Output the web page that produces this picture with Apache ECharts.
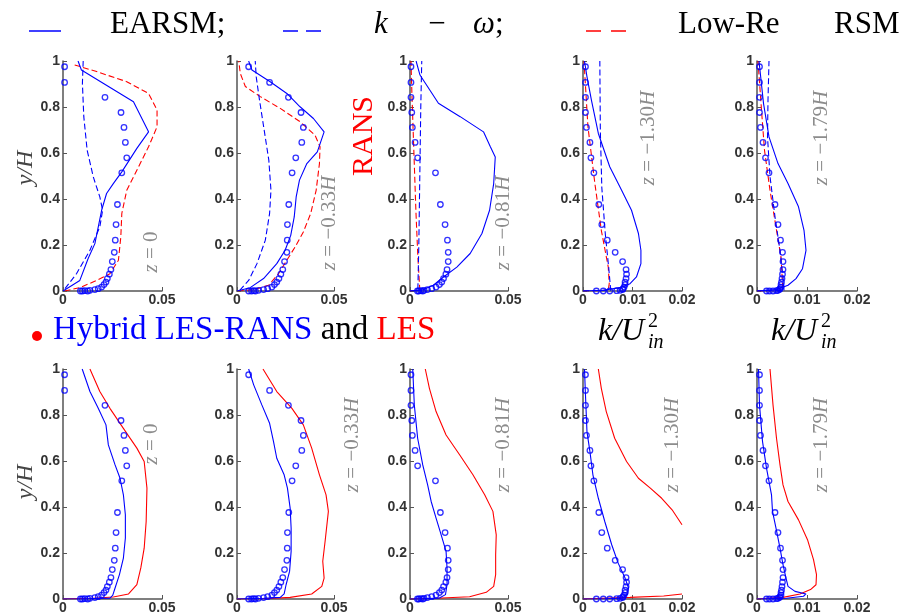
<!DOCTYPE html>
<html><head><meta charset="utf-8">
<script src="https://cdn.jsdelivr.net/npm/echarts@6/dist/echarts.min.js"></script>
<style>html,body{margin:0;padding:0;background:#fff}#c{width:905px;height:615px}</style>
</head><body><div id="c"></div>
<script>
// ---------- Data ----------
const yTickLabels = ['0','0.2','0.4','0.6','0.8','1'];
const zLabels = ['0','\u22120.33','\u22120.81','\u22121.30','\u22121.79'];
const xMaxs = [0.05, 0.05, 0.05, 0.02, 0.02];
const xIntervals = [0.05, 0.05, 0.05, 0.01, 0.01];

// experimental (circles), shared y positions
const yExp = [0.975,0.907,0.842,0.776,0.711,0.646,0.579,0.514,0.376,0.289,0.221,0.168,0.128,0.093,0.073,0.054,0.039,0.028,0.017,0.010,0.006,0.003,0.0015,0,0,0];
const expZ000 = [0.0008,0.0008,0.0212,0.0293,0.0308,0.0315,0.0322,0.0297,0.0275,0.0268,0.0264,0.0259,0.0249,0.0242,0.0234,0.0224,0.0217,0.0207,0.0195,0.0178,0.0161,0.0136,0.011,0.0088,0.0098,0.0125];
const expZ033 = [0.006,0.0168,0.0265,0.033,0.0342,0.0334,0.0303,0.0284,0.0267,0.026,0.0259,0.0257,0.0245,0.0236,0.0226,0.0216,0.0205,0.0193,0.018,0.0158,0.0137,0.0111,0.0086,0.006,0.0075,0.0095];
const expZ081 = [0.0005,0.0005,0.0005,0.0009,0.0012,0.0026,0.0039,0.013,0.0155,0.0179,0.0191,0.0195,0.0195,0.0189,0.0183,0.0171,0.0162,0.015,0.0133,0.0111,0.0089,0.0072,0.0055,0.0038,0.0045,0.0065];
const expZ130 = [0.0005,0.0005,0.0005,0.0005,0.0007,0.0014,0.0016,0.0022,0.0032,0.0038,0.0049,0.0065,0.008,0.0087,0.0088,0.0087,0.0085,0.0085,0.0083,0.0081,0.008,0.0075,0.0068,0.0054,0.0041,0.0027];
const expZ179 = [0.0005,0.0005,0.0005,0.0005,0.0007,0.0012,0.0017,0.0024,0.0036,0.0042,0.0047,0.0051,0.0052,0.0052,0.0051,0.005,0.0049,0.0048,0.0048,0.0046,0.0045,0.0042,0.0039,0.0032,0.0025,0.0019];

// RANS: EARSM (solid blue)
const earsmZ000 = [[0,0],[0.0085,0.046],[0.0127,0.141],[0.0161,0.206],[0.0195,0.351],[0.022,0.424],[0.0254,0.467],[0.0297,0.518],[0.0373,0.62],[0.0432,0.692],[0.0356,0.823],[0.0093,0.961],[0.0076,1.0]];
const earsmZ033 = [[0,0],[0.0068,0.0145],[0.0137,0.054],[0.0205,0.119],[0.0248,0.177],[0.0277,0.242],[0.0295,0.322],[0.0305,0.409],[0.0322,0.482],[0.036,0.554],[0.0414,0.605],[0.0449,0.692],[0.0394,0.75],[0.0325,0.801],[0.0257,0.859],[0.0171,0.91],[0.0077,0.961],[0.006,1.0]];
const earsmZ081 = [[0,0],[0.006,0.003],[0.0119,0.025],[0.0171,0.061],[0.0239,0.104],[0.0307,0.163],[0.0367,0.25],[0.0406,0.351],[0.0427,0.467],[0.0435,0.583],[0.041,0.627],[0.0375,0.692],[0.0256,0.758],[0.0145,0.816],[0.0051,0.939],[0.0031,1.0]];
const earsmZ130 = [[0,0],[0.0041,0.003],[0.0075,0.0145],[0.0095,0.032],[0.0108,0.061],[0.0117,0.119],[0.0117,0.177],[0.0112,0.25],[0.0098,0.351],[0.0078,0.438],[0.0054,0.54],[0.0031,0.685],[0.0017,0.83],[0.0008,0.932],[0.0003,1.0]];
const earsmZ179 = [[0,0],[0.0039,0.006],[0.0062,0.025],[0.0078,0.054],[0.0091,0.097],[0.0098,0.177],[0.0094,0.264],[0.0083,0.366],[0.0062,0.467],[0.0042,0.554],[0.0024,0.67],[0.0013,0.816],[0.0004,1.0]];

// RANS: k-omega (dashed blue)
const kwZ000 = [[0.001,0.01],[0.0068,0.075],[0.0136,0.177],[0.0186,0.279],[0.02,0.351],[0.0186,0.409],[0.0153,0.496],[0.0122,0.612],[0.0105,0.758],[0.0098,0.903],[0.0102,1.0]];
const kwZ033 = [[0.0014,0.003],[0.006,0.046],[0.0103,0.119],[0.0146,0.221],[0.0168,0.337],[0.0175,0.438],[0.0164,0.569],[0.014,0.7],[0.0116,0.83],[0.0099,0.932],[0.0094,1.0]];
const kwZ081 = [[0,0],[0.004,0.003],[0.0045,0.2],[0.005,0.5],[0.0055,0.8],[0.006,1.0]];
const kwZ130 = [[0,0],[0.0056,0.003],[0.0052,0.1],[0.0045,0.25],[0.0038,0.45],[0.0035,0.7],[0.0034,1.0]];
const kwZ179 = [[0,0],[0.0054,0.003],[0.0052,0.061],[0.0046,0.177],[0.0036,0.322],[0.0026,0.498],[0.0021,0.67],[0.0022,0.83],[0.0024,1.0]];

// RANS: Low-Re RSM (dashed red)
const rsmZ000 = [[0.0008,0],[0.0085,0.0145],[0.017,0.046],[0.0237,0.075],[0.028,0.134],[0.0292,0.235],[0.0297,0.337],[0.0322,0.438],[0.0373,0.525],[0.0432,0.627],[0.0475,0.714],[0.0475,0.787],[0.0432,0.859],[0.0322,0.91],[0.017,0.954],[0.0059,0.983]];
const rsmZ033 = [[0.0003,0],[0.0086,0.006],[0.0163,0.025],[0.0214,0.075],[0.0257,0.134],[0.03,0.192],[0.0342,0.257],[0.038,0.337],[0.0408,0.438],[0.0425,0.554],[0.0428,0.627],[0.0402,0.678],[0.0325,0.736],[0.0223,0.794],[0.012,0.845],[0.0043,0.889],[0.0017,0.946],[0.0009,1.0]];
const rsmZ081 = [[0,0],[0.005,0.005],[0.004,0.15],[0.003,0.35],[0.002,0.6],[0.001,0.85],[0.0005,1.0]];
const rsmZ130 = [[0,0],[0.0051,0.003],[0.0053,0.032],[0.0051,0.104],[0.0037,0.264],[0.0024,0.467],[0.001,0.714],[0.0002,1.0]];
const rsmZ179 = [[0,0],[0.0051,0.003],[0.0051,0.032],[0.0048,0.148],[0.0039,0.264],[0.0026,0.438],[0.0015,0.612],[0.0009,0.787],[0.0002,1.0]];

// Hybrid LES-RANS (solid blue)
const hybZ000 = [[0,0],[0.0119,0.0014],[0.0237,0.004],[0.0251,0.016],[0.0263,0.048],[0.0285,0.106],[0.0305,0.178],[0.0315,0.265],[0.0315,0.366],[0.0305,0.453],[0.0288,0.525],[0.0263,0.583],[0.0229,0.67],[0.0217,0.757],[0.0178,0.829],[0.0136,0.902],[0.0097,1.0]];
const hybZ033 = [[0,0],[0.0137,0.003],[0.0223,0.007],[0.0243,0.022],[0.0253,0.062],[0.0271,0.12],[0.0279,0.207],[0.0279,0.308],[0.0274,0.395],[0.026,0.482],[0.0243,0.54],[0.0205,0.612],[0.0188,0.685],[0.0168,0.764],[0.0128,0.844],[0.0086,0.931],[0.006,1.0]];
const hybZ081 = [[0,0],[0.0065,0.0014],[0.015,0.004],[0.0181,0.019],[0.0189,0.062],[0.0189,0.135],[0.0184,0.207],[0.0159,0.279],[0.0133,0.352],[0.0108,0.424],[0.009,0.496],[0.0065,0.583],[0.0039,0.699],[0.0022,0.844],[0.0014,1.0]];
const hybZ130 = [[0,0],[0.0047,0.0014],[0.0078,0.004],[0.009,0.019],[0.0092,0.048],[0.0085,0.091],[0.0071,0.156],[0.0058,0.236],[0.0044,0.337],[0.0031,0.438],[0.002,0.54],[0.0014,0.641],[0.0008,0.728],[0.0005,0.887],[0.0003,1.0]];
const hybZ179 = [[0,0],[0.0059,0.003],[0.0093,0.012],[0.0098,0.022],[0.0076,0.033],[0.0062,0.055],[0.0058,0.091],[0.0052,0.149],[0.0046,0.221],[0.0038,0.308],[0.0031,0.381],[0.0029,0.453],[0.0019,0.569],[0.0011,0.685],[0.0005,0.844],[0.0003,1.0]];

// LES (solid red)
const lesZ000 = [[0,0],[0.0153,0.003],[0.0254,0.009],[0.0331,0.022],[0.0373,0.062],[0.0393,0.135],[0.041,0.221],[0.042,0.337],[0.0424,0.482],[0.041,0.598],[0.0373,0.656],[0.0305,0.742],[0.0237,0.829],[0.0186,0.902],[0.0136,1.0]];
const lesZ033 = [[0,0],[0.0137,0.0014],[0.0274,0.007],[0.0385,0.022],[0.0437,0.055],[0.0449,0.091],[0.0442,0.164],[0.0454,0.25],[0.0471,0.381],[0.0459,0.453],[0.0425,0.54],[0.0385,0.656],[0.0342,0.757],[0.0283,0.829],[0.0205,0.902],[0.0134,1.0]];
const lesZ081 = [[0,0],[0.0133,0.003],[0.0304,0.01],[0.0389,0.029],[0.0427,0.055],[0.0437,0.106],[0.0437,0.192],[0.044,0.279],[0.0423,0.381],[0.0381,0.453],[0.0321,0.54],[0.0253,0.627],[0.0184,0.713],[0.0133,0.815],[0.0099,0.916],[0.0078,1.0]];
const lesZ130Upper = [[0.0031,1.0],[0.0037,0.916],[0.0047,0.815],[0.0064,0.699],[0.0088,0.598],[0.0112,0.525],[0.0136,0.482],[0.0159,0.438],[0.018,0.388],[0.02,0.323]];
const lesZ130Lower = [[0,0],[0.0095,0.007],[0.0163,0.013],[0.02,0.022]];
const lesZ179 = [[0,0],[0.0052,0.007],[0.0086,0.022],[0.0107,0.041],[0.0118,0.062],[0.0119,0.106],[0.0113,0.171],[0.0101,0.258],[0.0083,0.344],[0.0062,0.424],[0.0052,0.496],[0.0046,0.583],[0.0039,0.699],[0.0032,0.844],[0.0026,1.0]];

// ---------- Layout ----------
const BLUE = '#0000ff', RED = '#ff0000';
const lefts = [63, 237, 410, 583, 757];
const widths = [99, 97, 98, 99, 100];
const tops = [61, 369];
const PH = 230;

const expAll = [expZ000, expZ033, expZ081, expZ130, expZ179];
const earsmAll = [earsmZ000, earsmZ033, earsmZ081, earsmZ130, earsmZ179];
const kwAll = [kwZ000, kwZ033, kwZ081, kwZ130, kwZ179];
const rsmAll = [rsmZ000, rsmZ033, rsmZ081, rsmZ130, rsmZ179];
const hybAll = [hybZ000, hybZ033, hybZ081, hybZ130, hybZ179];
const lesAll = [[lesZ000], [lesZ033], [lesZ081], [lesZ130Upper, lesZ130Lower], [lesZ179]];

const grid = [], xAxis = [], yAxis = [], series = [];
const axColor = '#555';
const tickFont = {color:'#333', fontSize:14, fontFamily:'Liberation Sans, Arial, sans-serif', fontWeight:'bold'};

function lineS(idx, data, color, dashed) {
  return {type:'line', xAxisIndex:idx, yAxisIndex:idx, data:data, symbol:'none', showSymbol:false,
    lineStyle:{color:color, width:1.1, type: dashed ? [6,3] : 'solid'}, clip:true, animation:false, silent:true, z:2};
}
for (let r = 0; r < 2; r++) {
  for (let c = 0; c < 5; c++) {
    const idx = r*5 + c;
    grid.push({left:lefts[c], top:tops[r], width:widths[c], height:PH, containLabel:false});
    xAxis.push({gridIndex:idx, type:'value', min:0, max:xMaxs[c], interval:xIntervals[c],
      axisLine:{show:true, onZero:false, lineStyle:{color:axColor, width:1.5}},
      axisTick:{show:true, inside:true, length:4, lineStyle:{color:axColor}},
      axisLabel:Object.assign({margin:2, showMinLabel:true, showMaxLabel:true}, tickFont),
      splitLine:{show:false}});
    yAxis.push({gridIndex:idx, type:'value', min:0, max:1, interval:0.2,
      axisLine:{show:true, onZero:false, lineStyle:{color:axColor, width:1.5}},
      axisTick:{show:true, inside:true, length:4, lineStyle:{color:axColor}},
      axisLabel:Object.assign({margin:3, formatter:(v)=>yTickLabels[Math.round(v*5)]}, tickFont),
      splitLine:{show:false}});
    if (r === 0) {
      series.push(lineS(idx, rsmAll[c], RED, true));
      series.push(lineS(idx, kwAll[c], BLUE, true));
      series.push(lineS(idx, earsmAll[c], BLUE, false));
    } else {
      lesAll[c].forEach(d => series.push(lineS(idx, d, RED, false)));
      series.push(lineS(idx, hybAll[c], BLUE, false));
    }
    series.push({type:'scatter', xAxisIndex:idx, yAxisIndex:idx,
      data: expAll[c].map((x,i)=>[x, yExp[i]]), symbol:'circle', symbolSize:5.5,
      itemStyle:{color:'rgba(255,255,255,0)', borderColor:BLUE, borderWidth:1.3},
      animation:false, silent:true, z:3});
  }
}

// ---------- Text graphics ----------
const SERIF = 'Liberation Serif, Times New Roman, serif';
const graphic = [];
function txt(x, y, text, opts) {
  const o = Object.assign({size:30, color:'#000', italic:false, rot:0, align:'left', rich:null}, opts||{});
  const st = {text:text, x:0, y:0, fill:o.color, font:(o.italic?'italic ':'') + o.size + 'px ' + SERIF,
    align:o.align, verticalAlign:'middle'};
  if (o.rich) st.rich = o.rich;
  graphic.push({type:'text', x:x, y:y, rotation:o.rot, style:st, silent:true, z:10});
}
function seg(x1, x2, y, color, dash) {
  graphic.push({type:'line', shape:{x1:x1, y1:y, x2:x2, y2:y},
    style:{stroke:color, lineWidth:1.5, lineDash:dash||null}, silent:true, z:10});
}
// top legend
seg(29, 61, 31, BLUE);
txt(110, 25, 'EARSM;', {size:31});
seg(283, 321, 31, BLUE, [15,8]);
txt(381, 25, 'k', {size:31, italic:true, align:'center'});
txt(437, 25, '\u2212', {size:31, align:'center'});
txt(473, 25, '{i|\u03c9};', {size:31, rich:{i:{fontStyle:'italic', fontSize:31, fontFamily:SERIF}}});
seg(586, 626, 31, RED, [15,10]);
txt(678, 25, 'Low-Re', {size:31});
txt(834, 25, 'RSM', {size:31});

// RANS label
txt(364, 136, 'RANS', {size:30, color:RED, rot:Math.PI/2, align:'center'});

// hybrid legend
graphic.push({type:'circle', shape:{cx:37, cy:336, r:5}, style:{fill:RED}, silent:true, z:10});
txt(53, 330, '{b|Hybrid LES-RANS} {k|and} {r|LES}', {size:33, rich:{
  b:{fill:BLUE, color:BLUE, fontSize:33, fontFamily:SERIF},
  k:{fill:'#000', color:'#000', fontSize:33, fontFamily:SERIF},
  r:{fill:RED, color:RED, fontSize:33, fontFamily:SERIF}}});

// y/H labels
txt(26, 168, 'y/H', {size:24, italic:true, color:'#444', rot:Math.PI/2, align:'center'});
txt(26, 482, 'y/H', {size:24, italic:true, color:'#444', rot:Math.PI/2, align:'center'});

// k/U^2_in labels
[598, 771].forEach(x => {
  txt(x, 332, 'k/U', {size:32, italic:true, color:'#000'});
  txt(x + 50, 322, '2', {size:20, color:'#000'});
  txt(x + 50, 343, 'in', {size:20, italic:true, color:'#000'});
});

// z labels (rotated, gray)
const zRich = {i:{fontStyle:'italic', fontSize:21, fontFamily:SERIF, fill:'#8c8c8c', color:'#8c8c8c'}};
const zPosTop = [[151,252],[329,223],[503,223],[648,138],[821,138]];
const zPosBot = [[151,444],[352,445],[503,445],[672,445],[821,445]];
[zPosTop, zPosBot].forEach(pos => pos.forEach((p, c) => {
  const t = c === 0 ? '{i|z} = 0' : '{i|z} = ' + zLabels[c] + '{i|H}';
  txt(p[0], p[1], t, {size:21, color:'#8c8c8c', rot:Math.PI/2, align:'center', rich:zRich});
}));

const chart = echarts.init(document.getElementById('c'), null, {renderer:'canvas'});
chart.setOption({animation:false, backgroundColor:'#fff', grid, xAxis, yAxis, series, graphic});
</script>
</body></html>
